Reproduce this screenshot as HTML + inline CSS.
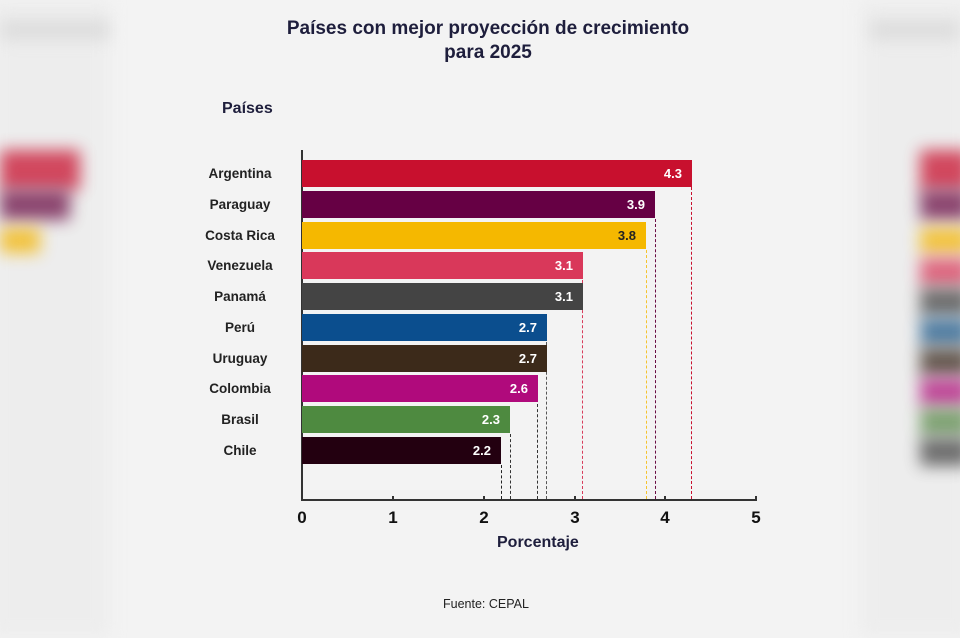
<!DOCTYPE html>
<html><head><meta charset="utf-8"><style>
body{margin:0;width:960px;height:638px;background:#f3f3f3;position:relative;overflow:hidden;font-family:"Liberation Sans",sans-serif;}
.blur{position:absolute;filter:blur(8px);opacity:.75;}
.t{position:absolute;font-weight:bold;color:#1e1e3c;}
.lab{position:absolute;width:110px;left:185px;text-align:center;font-weight:bold;font-size:13.5px;color:#222;}
.bar{position:absolute;left:302px;height:27px;}
.v{position:absolute;right:10px;top:6px;font-weight:bold;font-size:13px;color:#fff;}
.dash{position:absolute;width:0;border-left:1.5px dashed;}
.tick{position:absolute;top:496px;width:1.5px;height:5px;background:#333;}
.tl{position:absolute;top:508px;font-weight:bold;font-size:17px;color:#111;width:20px;text-align:center;}
</style></head><body>
<div class="blur" style="left:-10px;top:0;width:120px;height:638px;background:#ececec"></div>
<div class="blur" style="left:0;top:150px;width:80px;height:40px;background:#c8102e"></div>
<div class="blur" style="left:0;top:190px;width:70px;height:30px;background:#6a0d44"></div>
<div class="blur" style="left:0;top:228px;width:40px;height:25px;background:#f4b400"></div>
<div class="blur" style="left:0;top:20px;width:110px;height:20px;background:#d8d8d8"></div>
<div class="blur" style="left:860px;top:0;width:110px;height:638px;background:#ececec"></div>
<div class="blur" style="left:920px;top:150px;width:50px;height:40px;background:#c8102e"></div>
<div class="blur" style="left:920px;top:190px;width:50px;height:30px;background:#6a0d44"></div>
<div class="blur" style="left:920px;top:228px;width:50px;height:25px;background:#f4b400"></div>
<div class="blur" style="left:920px;top:258px;width:50px;height:28px;background:#d83a5a"></div>
<div class="blur" style="left:920px;top:288px;width:50px;height:28px;background:#444"></div>
<div class="blur" style="left:920px;top:318px;width:50px;height:28px;background:#1f5a8a"></div>
<div class="blur" style="left:920px;top:348px;width:50px;height:28px;background:#3b2a1e"></div>
<div class="blur" style="left:920px;top:378px;width:50px;height:28px;background:#b0127c"></div>
<div class="blur" style="left:920px;top:408px;width:50px;height:28px;background:#5a8a4a"></div>
<div class="blur" style="left:920px;top:438px;width:50px;height:28px;background:#444"></div>
<div class="blur" style="left:870px;top:20px;width:90px;height:20px;background:#d8d8d8"></div>

<div class="t" style="left:0;width:976px;top:17px;text-align:center;font-size:19px;line-height:24px">Países con mejor proyección de crecimiento<br>para 2025</div>
<div class="t" style="left:222px;top:100px;font-size:16px">Países</div>

<div style="position:absolute;left:301px;top:150px;width:1.5px;height:351px;background:#333"></div>
<div style="position:absolute;left:301px;top:499px;width:455px;height:1.5px;background:#333"></div>

<div class="dash" style="left:691px;top:187px;height:312px;border-color:#c8102e"></div>
<div class="dash" style="left:655px;top:219px;height:280px;border-color:#6a0d44"></div>
<div class="dash" style="left:646px;top:250px;height:249px;border-color:#f4c430"></div>
<div class="dash" style="left:582px;top:280px;height:219px;border-color:#d83a5a"></div>
<div class="dash" style="left:546px;top:342px;height:157px;border-color:#555"></div>
<div class="dash" style="left:537px;top:404px;height:95px;border-color:#333"></div>
<div class="dash" style="left:510px;top:434px;height:65px;border-color:#333"></div>
<div class="dash" style="left:501px;top:465px;height:34px;border-color:#222"></div>

<div class="lab" style="top:166px">Argentina</div><div class="bar" style="top:160px;width:390px;background:#c8102e"><span class="v">4.3</span></div>
<div class="lab" style="top:197px">Paraguay</div><div class="bar" style="top:191px;width:353px;background:#660044"><span class="v">3.9</span></div>
<div class="lab" style="top:228px">Costa Rica</div><div class="bar" style="top:222px;width:344px;background:#f5b800"><span class="v" style="color:#222">3.8</span></div>
<div class="lab" style="top:258px">Venezuela</div><div class="bar" style="top:252px;width:281px;background:#d9385a"><span class="v">3.1</span></div>
<div class="lab" style="top:289px">Panamá</div><div class="bar" style="top:283px;width:281px;background:#444"><span class="v">3.1</span></div>
<div class="lab" style="top:320px">Perú</div><div class="bar" style="top:314px;width:245px;background:#0b4e8e"><span class="v">2.7</span></div>
<div class="lab" style="top:351px">Uruguay</div><div class="bar" style="top:345px;width:245px;background:#3c2a1a"><span class="v">2.7</span></div>
<div class="lab" style="top:381px">Colombia</div><div class="bar" style="top:375px;width:236px;background:#b00a7c"><span class="v">2.6</span></div>
<div class="lab" style="top:412px">Brasil</div><div class="bar" style="top:406px;width:208px;background:#4e8a40"><span class="v">2.3</span></div>
<div class="lab" style="top:443px">Chile</div><div class="bar" style="top:437px;width:199px;background:#230010"><span class="v">2.2</span></div>

<div class="tick" style="left:392px"></div><div class="tick" style="left:483px"></div><div class="tick" style="left:574px"></div><div class="tick" style="left:664px"></div><div class="tick" style="left:755px"></div>
<div class="tl" style="left:292px">0</div><div class="tl" style="left:383px">1</div><div class="tl" style="left:474px">2</div><div class="tl" style="left:565px">3</div><div class="tl" style="left:655px">4</div><div class="tl" style="left:746px">5</div>
<div class="t" style="left:497px;top:534px;font-size:16px">Porcentaje</div>
<div style="position:absolute;left:443px;top:597px;font-size:12.5px;color:#222">Fuente: CEPAL</div>
</body></html>
